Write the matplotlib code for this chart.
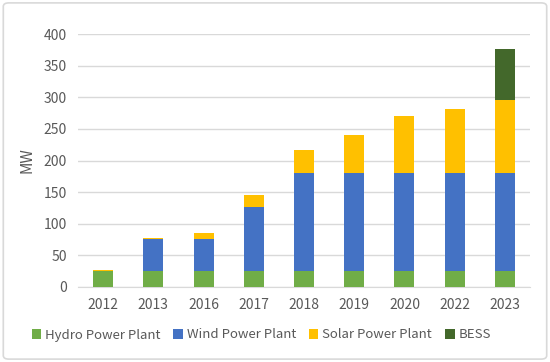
import matplotlib.pyplot as plt
import numpy as np
from matplotlib.patches import FancyBboxPatch

plt.rcParams['font.family'] = ['Noto Sans CJK KR', 'DejaVu Sans']

years = ["2012", "2013", "2016", "2017", "2018", "2019", "2020", "2022", "2023"]
hydro = [25, 25, 25, 25, 25, 25, 25, 25, 25]
wind = [0, 51, 51, 101, 156, 156, 156, 156, 156]
solar = [1.5, 1.5, 10, 20, 35, 60, 90, 101, 115]
bess = [0, 0, 0, 0, 0, 0, 0, 0, 81]

series = [
    ("Hydro Power Plant", hydro, "#70AD47"),
    ("Wind Power Plant", wind, "#4472C4"),
    ("Solar Power Plant", solar, "#FFC000"),
    ("BESS", bess, "#43682B"),
]

text_col = "#595959"

fig = plt.figure(figsize=(5.5, 3.62), dpi=100)
fig.patches.append(FancyBboxPatch((0.006, 0.008), 0.988, 0.984, boxstyle="round,pad=0,rounding_size=0.01",
                                  transform=fig.transFigure, facecolor="none",
                                  edgecolor="#D9D9D9", linewidth=1.2))
ax = fig.add_axes([78 / 550, 1 - 287 / 362, 452 / 550, 253 / 362])

x = np.arange(len(years))
bottom = np.zeros(len(years))
handles = []
for name, vals, col in series:
    h = ax.bar(x, vals, width=0.4, bottom=bottom, color=col, label=name, zorder=3)
    handles.append(h)
    bottom += np.array(vals)

ax.set_ylim(0, 400)
ax.set_xlim(-0.5, len(years) - 0.5)
ax.set_yticks(range(0, 401, 50))
ax.set_xticks(x)
ax.set_xticklabels(years)
ax.grid(axis="y", color="#D9D9D9", linewidth=1, zorder=0)
for s in ["top", "right", "left"]:
    ax.spines[s].set_visible(False)
ax.spines["bottom"].set_color("#D9D9D9")
ax.tick_params(length=0, labelsize=10, colors=text_col, pad=8)
ax.set_ylabel("MW", fontsize=11, color=text_col, labelpad=6)

fig.legend(handles=handles, loc="center", bbox_to_anchor=(0.475, 1 - 335 / 362), ncol=4,
           frameon=False, fontsize=9.5, labelcolor=text_col, handlelength=0.7,
           handleheight=0.7, handletextpad=0.3, columnspacing=1.0)

fig.savefig("out.png", dpi=100)
